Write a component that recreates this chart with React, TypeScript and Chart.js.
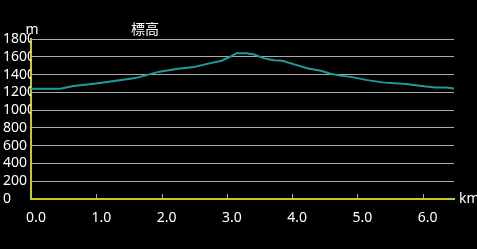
import React, { useEffect, useRef } from "react";
import { Chart, registerables } from "chart.js";

Chart.register(...registerables);

const titleText = "標高";
const yUnit = "m";
const xUnit = "km";

const distanceKm = [
  0.0, 0.45, 0.65, 1.0, 1.3, 1.6, 1.95, 2.25, 2.5, 2.7, 2.92, 3.05, 3.15, 3.3,
  3.42, 3.56, 3.72, 3.85, 4.02, 4.23, 4.44, 4.59, 4.74, 4.9, 5.13, 5.38, 5.74,
  6.05, 6.2, 6.36, 6.48,
];
const elevationM = [
  1240, 1240, 1270, 1300, 1330, 1360, 1430, 1465, 1485, 1520, 1555, 1600, 1640,
  1640, 1625, 1585, 1560, 1555, 1517, 1472, 1442, 1410, 1388, 1374, 1340, 1312,
  1295, 1265, 1255, 1253, 1242,
];

const xMin = 0;
const xMax = 6.48;
const yMin = 0;
const yMax = 1800;
const yStep = 200;
const xStep = 1;

const YELLOW = "#c8c82a";
const TEAL = "#1e9c9c";
const GRID = "#aaaaaa";
const FONT = "'Noto Sans', 'Open Sans', sans-serif";

export default function App() {
  const ref = useRef<HTMLCanvasElement | null>(null);

  useEffect(() => {
    if (!ref.current) return;
    const extras = {
      id: "extras",
      afterDraw(chart: any) {
        const ctx = chart.ctx;
        const xs = chart.scales.x;
        const area = chart.chartArea;
        ctx.save();
        ctx.strokeStyle = GRID;
        ctx.lineWidth = 1;
        for (let v = xStep; v <= xMax; v += xStep) {
          const px = Math.round(xs.getPixelForValue(v)) + 0.5;
          ctx.beginPath();
          ctx.moveTo(px, area.bottom - 5);
          ctx.lineTo(px, area.bottom - 1);
          ctx.stroke();
        }
        ctx.fillStyle = "#ffffff";
        ctx.textBaseline = "middle";
        ctx.font = `14px ${FONT}`;
        ctx.textAlign = "center";
        ctx.fillText(yUnit, area.left + 1, area.top - 9);
        ctx.textAlign = "left";
        ctx.fillText(xUnit, area.right + 5, area.bottom);
        ctx.font = `14px 'Noto Sans CJK JP', sans-serif`;
        ctx.textAlign = "center";
        ctx.fillText(titleText, 145, 29);
        ctx.restore();
      },
    };

    const chart = new Chart(ref.current, {
      type: "line",
      data: {
        datasets: [
          {
            label: titleText,
            data: distanceKm.map((x, i) => ({ x, y: elevationM[i] })),
            borderColor: TEAL,
            borderWidth: 2,
            pointRadius: 0,
            tension: 0,
            fill: false,
          },
        ],
      },
      options: {
        animation: false,
        responsive: false,
        maintainAspectRatio: false,
        layout: { padding: { left: 3, right: 23, top: 39, bottom: 0 } },
        plugins: {
          legend: { display: false },
          title: { display: false },
          tooltip: { enabled: false },
        },
        scales: {
          x: {
            type: "linear",
            min: xMin,
            max: xMax,
            afterFit: (s: any) => {
              s.height = 50;
            },
            grid: { display: false, drawTicks: false },
            border: { display: true, color: YELLOW, width: 2 },
            ticks: {
              stepSize: xStep,
              includeBounds: false,
              color: "#ffffff",
              font: { size: 14, family: FONT },
              padding: 11,
              labelOffset: 5,
              maxRotation: 0,
              autoSkip: false,
              callback: (v: any) => Number(v).toFixed(1),
            },
          },
          y: {
            type: "linear",
            min: yMin,
            max: yMax,
            afterFit: (s: any) => {
              s.width = 28;
            },
            grid: { color: GRID, lineWidth: 1, drawTicks: false },
            border: { display: true, color: YELLOW, width: 2 },
            ticks: {
              stepSize: yStep,
              color: "#ffffff",
              font: { size: 14, family: FONT },
              crossAlign: "far",
              padding: 0,
              autoSkip: false,
              callback: (v: any) => String(v),
            },
          },
        },
      },
      plugins: [extras],
    });
    return () => chart.destroy();
  }, []);

  return (
    <div
      style={{
        position: "fixed",
        left: 0,
        top: 0,
        width: 477,
        height: 249,
        background: "#000000",
      }}
    >
      <canvas ref={ref} width={477} height={249} style={{ display: "block" }} />
    </div>
  );
}
